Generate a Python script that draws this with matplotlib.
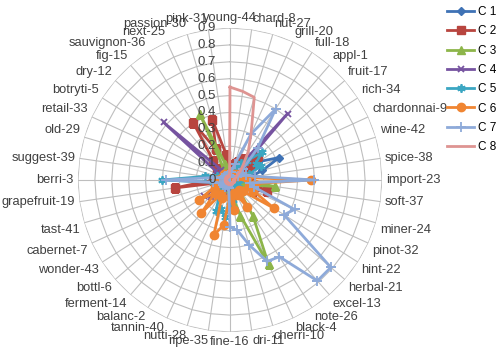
import numpy as np
import matplotlib
matplotlib.use("Agg")
import matplotlib.pyplot as plt

# categories, clockwise from the top
categories = ["young-44", "chard-8", "nut-27", "grill-20", "full-18", "appl-1", "fruit-17",
              "rich-34", "chardonnai-9", "wine-42", "spice-38", "import-23", "soft-37",
              "miner-24", "pinot-32", "hint-22", "herbal-21", "excel-13", "note-26",
              "black-4", "cherri-10", "dri-11", "fine-16", "ripe-35", "nutti-28",
              "tannin-40", "balanc-2", "ferment-14", "bottl-6", "wonder-43", "cabernet-7",
              "tast-41", "grapefruit-19", "berri-3", "suggest-39", "old-29", "retail-33",
              "botryti-5", "dry-12", "fig-15", "sauvignon-36", "next-25", "passion-30",
              "pink-31"]

c1 = [0.02, 0.03, 0.05, 0.08, 0.10, 0.12, 0.18, 0.20, 0.32, 0.20, 0.12, 0.05, 0.08, 0.06,
      0.04, 0.03, 0.02, 0.02, 0.03, 0.02, 0.02, 0.03, 0.02, 0.02, 0.03, 0.02, 0.02, 0.03,
      0.02, 0.02, 0.03, 0.02, 0.02, 0.04, 0.03, 0.02, 0.03, 0.02, 0.03, 0.02, 0.03, 0.02,
      0.03, 0.02]
c2 = [0.05, 0.08, 0.10, 0.12, 0.15, 0.10, 0.22, 0.15, 0.10, 0.05, 0.08, 0.03, 0.12, 0.23,
      0.15, 0.05, 0.03, 0.02, 0.02, 0.03, 0.02, 0.02, 0.03, 0.02, 0.02, 0.03, 0.02, 0.02,
      0.03, 0.02, 0.03, 0.05, 0.33, 0.10, 0.05, 0.03, 0.08, 0.05, 0.10, 0.15, 0.40, 0.20,
      0.37, 0.15]
c3 = [0.03, 0.05, 0.04, 0.06, 0.08, 0.05, 0.04, 0.06, 0.05, 0.08, 0.10, 0.06, 0.27, 0.10,
      0.08, 0.06, 0.05, 0.08, 0.25, 0.55, 0.22, 0.10, 0.05, 0.04, 0.03, 0.05, 0.04, 0.03,
      0.02, 0.03, 0.02, 0.03, 0.02, 0.03, 0.02, 0.03, 0.02, 0.03, 0.04, 0.03, 0.05, 0.43,
      0.10, 0.05]
c4 = [0.02, 0.03, 0.04, 0.05, 0.08, 0.52, 0.05, 0.03, 0.04, 0.03, 0.05, 0.03, 0.04, 0.03,
      0.02, 0.03, 0.02, 0.03, 0.02, 0.03, 0.02, 0.03, 0.02, 0.03, 0.05, 0.08, 0.10, 0.12,
      0.15, 0.18, 0.08, 0.05, 0.03, 0.04, 0.05, 0.06, 0.08, 0.10, 0.52, 0.08, 0.05, 0.04,
      0.03, 0.02]
c5 = [0.03, 0.04, 0.05, 0.08, 0.12, 0.15, 0.25, 0.18, 0.20, 0.12, 0.08, 0.05, 0.04, 0.03,
      0.05, 0.04, 0.03, 0.05, 0.08, 0.06, 0.10, 0.12, 0.15, 0.22, 0.18, 0.20, 0.12, 0.08,
      0.06, 0.05, 0.04, 0.06, 0.10, 0.40, 0.15, 0.08, 0.06, 0.05, 0.04, 0.05, 0.04, 0.03,
      0.04, 0.03]
c6 = [0.03, 0.02, 0.03, 0.04, 0.03, 0.05, 0.04, 0.06, 0.05, 0.08, 0.10, 0.48, 0.15, 0.12,
      0.15, 0.31, 0.10, 0.08, 0.19, 0.10, 0.08, 0.18, 0.10, 0.27, 0.34, 0.12, 0.10, 0.26,
      0.12, 0.22, 0.10, 0.05, 0.05, 0.08, 0.06, 0.05, 0.04, 0.03, 0.04, 0.05, 0.03, 0.04,
      0.03, 0.02]
c7 = [0.02, 0.05, 0.10, 0.30, 0.50, 0.25, 0.10, 0.08, 0.05, 0.10, 0.15, 0.50, 0.12, 0.15,
      0.42, 0.38, 0.79, 0.79, 0.54, 0.53, 0.40, 0.30, 0.28, 0.05, 0.04, 0.03, 0.05, 0.04,
      0.03, 0.05, 0.04, 0.06, 0.10, 0.38, 0.10, 0.05, 0.04, 0.03, 0.04, 0.03, 0.02, 0.03,
      0.02, 0.03]
c8 = [0.55, 0.53, 0.51, 0.30, 0.20, 0.12, 0.08, 0.05, 0.04, 0.03, 0.02, 0.03, 0.02, 0.03,
      0.02, 0.03, 0.02, 0.02, 0.03, 0.02, 0.02, 0.03, 0.02, 0.02, 0.03, 0.02, 0.02, 0.03,
      0.02, 0.02, 0.03, 0.02, 0.02, 0.03, 0.02, 0.02, 0.03, 0.02, 0.02, 0.03, 0.02, 0.02,
      0.03, 0.02]

series = [("C 1", c1, "#3F72B5", "D", 4.5),
          ("C 2", c2, "#B8453F", "s", 6),
          ("C 3", c3, "#8DB54A", "^", 6),
          ("C 4", c4, "#7653A0", "x", 5),
          ("C 5", c5, "#3BA6C2", (6, 2, 0), 6),
          ("C 6", c6, "#F08532", "o", 6),
          ("C 7", c7, "#8EAAD9", "+", 7),
          ("C 8", c8, "#DE9492", None, 0)]

rmax = 0.9
n = len(categories)
theta = np.linspace(0, 2 * np.pi, n, endpoint=False)
theta_c = np.append(theta, theta[0])

plt.rcParams["font.family"] = ["Liberation Sans", "DejaVu Sans"]
fig = plt.figure(figsize=(5.02, 3.62), dpi=100)
ax = fig.add_axes([78 / 502, 30 / 362, 304 / 502, 304 / 362], projection="polar")
ax.set_theta_zero_location("N")
ax.set_theta_direction(-1)
ax.set_ylim(0, rmax)
ax.grid(False)
ax.spines["polar"].set_visible(False)
ax.set_xticks([])
ax.set_yticks([])

# polygon grid
grid_col = "#BEBEBE"
for r in np.arange(0.1, rmax + 0.001, 0.1):
    ax.plot(theta_c, [r] * (n + 1), color=grid_col, lw=0.8, zorder=1)
for t in theta:
    ax.plot([t, t], [0, rmax], color=grid_col, lw=0.8, zorder=1)

# radial labels
for i in range(10):
    v = i / 10
    ax.annotate("0" if i == 0 else f"{v:.1f}", xy=(0, v), xytext=(-10, 0),
                textcoords="offset points", ha="right", va="center",
                fontsize=9.5, color="#404040", zorder=5)

# category labels
for t, lab in zip(theta, categories):
    s, c = np.sin(t), np.cos(t)
    ha = "left" if s > 0.1 else ("right" if s < -0.1 else "center")
    va = "bottom" if c > 0.15 else ("top" if c < -0.15 else "center")
    ax.annotate(lab, xy=(t, rmax), xytext=(3 * s, 3 * c), textcoords="offset points",
                ha=ha, va=va, fontsize=9.3, color="#404040", annotation_clip=False)

for name, vals, col, mk, ms in series:
    v = np.append(vals, vals[0])
    ax.plot(theta_c, v, color=col, lw=2.0, marker=mk, markersize=ms,
            markeredgewidth=1.3 if mk in ("x", "+", (6, 2, 0)) else 1,
            label=name, zorder=3)

fig.legend(loc="upper left", bbox_to_anchor=(447 / 502, 1 - 6 / 362), frameon=False,
           fontsize=8.5, handlelength=2.3, handletextpad=0.35, labelspacing=0.62,
           borderpad=0, borderaxespad=0)

fig.savefig("out.png", dpi=100)
